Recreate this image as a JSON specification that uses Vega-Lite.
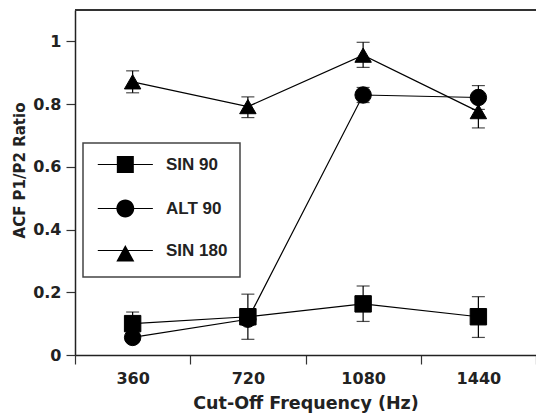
{
  "$schema": "https://vega.github.io/schema/vega-lite/v6.json",
  "width": 461,
  "height": 345,
  "autosize": {"type": "none"},
  "padding": {"left": 75, "top": 10, "right": 0, "bottom": 61},
  "background": "white",
  "config": {
    "view": {"stroke": null},
    "axis": {
      "grid": false,
      "domainColor": "#222",
      "domainWidth": 1.5,
      "tickColor": "#333",
      "tickWidth": 1.2,
      "labelColor": "#222",
      "titleColor": "#222",
      "labelFont": "DejaVu Sans",
      "labelFontWeight": "bold",
      "labelFontSize": 16,
      "titleFontWeight": "bold"
    },
    "legend": {"strokeWidth": 1.5}
  },
  "data": {
    "values": [
      {"freq": 360, "series": "SIN 90", "value": 0.10, "lo": 0.065, "hi": 0.137},
      {"freq": 720, "series": "SIN 90", "value": 0.122, "lo": 0.05, "hi": 0.194},
      {"freq": 1080, "series": "SIN 90", "value": 0.163, "lo": 0.107, "hi": 0.22},
      {"freq": 1440, "series": "SIN 90", "value": 0.122, "lo": 0.056, "hi": 0.186},
      {"freq": 360, "series": "ALT 90", "value": 0.056, "lo": 0.04, "hi": 0.072},
      {"freq": 720, "series": "ALT 90", "value": 0.114, "lo": 0.095, "hi": 0.133},
      {"freq": 1080, "series": "ALT 90", "value": 0.829, "lo": 0.805, "hi": 0.853},
      {"freq": 1440, "series": "ALT 90", "value": 0.821, "lo": 0.783, "hi": 0.859},
      {"freq": 360, "series": "SIN 180", "value": 0.871, "lo": 0.836, "hi": 0.906},
      {"freq": 720, "series": "SIN 180", "value": 0.792, "lo": 0.757, "hi": 0.823},
      {"freq": 1080, "series": "SIN 180", "value": 0.956, "lo": 0.917, "hi": 0.997},
      {"freq": 1440, "series": "SIN 180", "value": 0.776, "lo": 0.724, "hi": 0.828}
    ]
  },
  "resolve": {"scale": {"shape": "independent"}, "legend": {"shape": "independent"}},
  "layer": [
    {
      "mark": {"type": "rule", "color": "#333", "strokeWidth": 1.5},
      "encoding": {"y": {"datum": 1.1, "type": "quantitative"}}
    },
    {
      "mark": {"type": "line", "color": "black", "strokeWidth": 1.2},
      "encoding": {
        "x": {
          "field": "freq", "type": "ordinal", "sort": [360, 720, 1080, 1440],
          "title": "Cut-Off Frequency (Hz)",
          "scale": {"paddingInner": 0, "paddingOuter": 0},
          "axis": {
            "labelAngle": 0,
            "tickBand": "extent",
            "tickSize": 9,
            "labelPadding": 6,
            "titleFont": "DejaVu Sans",
            "titleFontSize": 17.5,
            "titleFontWeight": "bold",
            "titlePadding": 8
          }
        },
        "y": {
          "field": "value", "type": "quantitative",
          "title": "ACF P1/P2 Ratio",
          "scale": {"domain": [0, 1.1], "nice": false, "zero": false},
          "axis": {
            "values": [0, 0.1, 0.2, 0.3, 0.4, 0.5, 0.6, 0.7, 0.8, 0.9, 1.0],
            "format": ".1~f",
            "labelExpr": "round(datum.value*10) % 2 == 0 ? datum.label : ''",
            "tickSize": {"condition": {"test": "round(datum.value*10) % 2 == 0", "value": 9}, "value": 4.5},
            "labelPadding": 5,
            "titleFont": "DejaVu Sans",
            "titleFontSize": 15,
            "titleFontWeight": "bold",
            "titleBaseline": "alphabetic",
            "titleX": -51,
            "titleY": 160
          }
        },
        "detail": {"field": "series"}
      }
    },
    {
      "mark": {"type": "rule", "color": "black", "strokeWidth": 1.2},
      "encoding": {
        "x": {"field": "freq", "type": "ordinal", "sort": [360, 720, 1080, 1440], "title": "Cut-Off Frequency (Hz)"},
        "y": {"field": "lo", "type": "quantitative", "title": "ACF P1/P2 Ratio"},
        "y2": {"field": "hi"}
      }
    },
    {
      "mark": {"type": "tick", "color": "black", "size": 13, "thickness": 1.2},
      "encoding": {
        "x": {"field": "freq", "type": "ordinal", "sort": [360, 720, 1080, 1440], "title": "Cut-Off Frequency (Hz)"},
        "y": {"field": "lo", "type": "quantitative", "title": "ACF P1/P2 Ratio"}
      }
    },
    {
      "mark": {"type": "tick", "color": "black", "size": 13, "thickness": 1.2},
      "encoding": {
        "x": {"field": "freq", "type": "ordinal", "sort": [360, 720, 1080, 1440], "title": "Cut-Off Frequency (Hz)"},
        "y": {"field": "hi", "type": "quantitative", "title": "ACF P1/P2 Ratio"}
      }
    },
    {
      "mark": {"type": "point", "filled": true, "fill": "black", "stroke": "black", "strokeWidth": 1, "opacity": 1, "size": 270},
      "encoding": {
        "x": {"field": "freq", "type": "ordinal", "sort": [360, 720, 1080, 1440], "title": "Cut-Off Frequency (Hz)"},
        "y": {"field": "value", "type": "quantitative", "title": "ACF P1/P2 Ratio"},
        "shape": {
          "field": "series", "type": "nominal",
          "scale": {"domain": ["SIN 90", "ALT 90", "SIN 180"], "range": ["square", "circle", "triangle-up"]},
          "legend": null
        }
      }
    },
    {
      "transform": [{"filter": "datum.value > 5"}],
      "mark": {"type": "point", "filled": true, "fill": "black", "opacity": 1, "size": 289},
      "encoding": {
        "x": {"field": "freq", "type": "ordinal", "sort": [360, 720, 1080, 1440], "title": "Cut-Off Frequency (Hz)"},
        "y": {"field": "value", "type": "quantitative", "title": "ACF P1/P2 Ratio"},
        "shape": {
          "field": "series", "type": "nominal",
          "scale": {
            "domain": ["SIN 90", "ALT 90", "SIN 180"],
            "range": [
              "M-0.79,-0.07H5.69V0.07H-0.79ZM1.45,-1H3.45V1H1.45Z",
              "M-0.79,-0.07H5.69V0.07H-0.79ZM3.5,0A1.05,1.05,0,1,1,1.4,0A1.05,1.05,0,1,1,3.5,0Z",
              "M-0.79,-0.07H5.69V0.07H-0.79ZM2.45,-0.66L3.51,1.3H1.39Z"
            ]
          },
          "legend": {
            "title": null,
            "orient": "none",
            "legendX": 8,
            "legendY": 133,
            "padding": 12,
            "strokeColor": "#444",
            "symbolSize": 289,
            "symbolOffset": 0,
            "labelOffset": 52,
            "labelFont": "Liberation Sans",
            "labelFontSize": 17,
            "labelFontWeight": "bold",
            "labelColor": "#222",
            "rowPadding": 20
          }
        }
      }
    }
  ]
}
